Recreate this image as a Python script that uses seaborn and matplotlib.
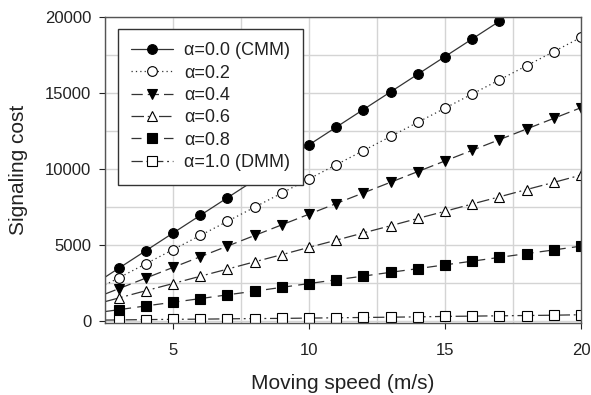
import matplotlib
matplotlib.use("Agg")
import matplotlib.pyplot as plt
import seaborn as sns
from matplotlib.ticker import MultipleLocator

# speeds (first point is where the lines meet the left axis, no marker there)
speed = [2.5, 3, 4, 5, 6, 7, 8, 9, 10, 11, 12, 13, 14, 15, 16, 17, 18, 19, 20]
speed_cmm = speed[:16]

cost_a00 = [2870, 3450, 4610, 5770, 6930, 8090, 9250, 10410, 11570, 12730,
            13890, 15050, 16210, 17370, 18530, 19690]
cost_a02 = [2360, 2820, 3750, 4680, 5610, 6540, 7470, 8400, 9330, 10260,
            11190, 12120, 13050, 13980, 14910, 15840, 16770, 17700, 18630]
cost_a04 = [1760, 2110, 2810, 3510, 4210, 4910, 5610, 6310, 7010, 7710,
            8410, 9110, 9810, 10510, 11210, 11910, 12610, 13310, 14010]
cost_a06 = [1260, 1500, 1980, 2450, 2930, 3400, 3880, 4350, 4830, 5300,
            5780, 6250, 6730, 7200, 7680, 8150, 8630, 9100, 9580]
cost_a08 = [610, 730, 980, 1220, 1460, 1710, 1950, 2200, 2450, 2700,
            2940, 3190, 3430, 3680, 3920, 4170, 4420, 4660, 4910]
cost_a10 = [50, 60, 80, 100, 110, 130, 150, 160, 180, 200,
            220, 240, 260, 290, 310, 330, 350, 370, 400]

labels = ["\u03b1=0.0 (CMM)", "\u03b1=0.2", "\u03b1=0.4", "\u03b1=0.6",
          "\u03b1=0.8", "\u03b1=1.0 (DMM)"]

sns.set_style("white")
plt.rcParams["font.family"] = ["Liberation Sans", "DejaVu Sans"]
txt = "#222222"

fig = plt.figure(figsize=(5.91, 3.95), dpi=100)
ax = fig.add_axes([0.1777, 0.182, 0.8053, 0.776])

series = [
    (speed_cmm, cost_a00, "o", "k", "-"),
    (speed, cost_a02, "o", "white", (0, (1, 2.5))),
    (speed, cost_a04, "v", "k", (0, (9, 4))),
    (speed, cost_a06, "^", "white", (0, (10, 3, 1.5, 3, 1.5, 3))),
    (speed, cost_a08, "s", "k", (0, (8, 5))),
    (speed, cost_a10, "s", "white", (0, (9, 3, 1.5, 3))),
]

for (xs, ys, mk, fc, ls), lab in zip(series, labels):
    sns.lineplot(x=xs, y=ys, ax=ax, color="#333333", linewidth=0.9,
                 linestyle=ls, marker=mk, markersize=7,
                 markerfacecolor=fc, markeredgecolor="k",
                 markeredgewidth=0.8, label=lab)

ax.set_xlim(2.5, 20)
ax.set_ylim(-150, 20000)
ax.xaxis.set_major_locator(MultipleLocator(5))
ax.yaxis.set_major_locator(MultipleLocator(5000))
ax.xaxis.set_minor_locator(MultipleLocator(2.5))
ax.yaxis.set_minor_locator(MultipleLocator(2500))
ax.grid(True, which="both", color="#d4d4d4", linewidth=1)
ax.set_axisbelow(True)
ax.tick_params(which="major", direction="out", length=4, width=0.8,
               labelsize=12, colors=txt, left=True, bottom=True)
ax.tick_params(axis="x", which="major", pad=10)
ax.tick_params(axis="y", which="major", pad=6)
ax.tick_params(which="minor", length=0)
for sp in ax.spines.values():
    sp.set_color("#555555")
    sp.set_linewidth(1)

ax.set_xlabel("Moving speed (m/s)", fontsize=15, color=txt, labelpad=12)
ax.set_ylabel("Signaling cost", fontsize=15, color=txt, labelpad=12)

leg = ax.legend(loc="upper left", bbox_to_anchor=(0.027, 0.961),
                borderaxespad=0, fontsize=13, frameon=True, fancybox=False,
                framealpha=1, edgecolor="#333333", handlelength=2.3,
                labelspacing=0.3, borderpad=0.75, handletextpad=0.6)
leg.get_frame().set_linewidth(1)
for t in leg.get_texts():
    t.set_color(txt)

# no marker on the left edge point
for line in ax.get_lines():
    n = len(line.get_xdata())
    if n > 2:
        line.set_markevery(list(range(1, n)))

fig.savefig("out.png", dpi=100)
